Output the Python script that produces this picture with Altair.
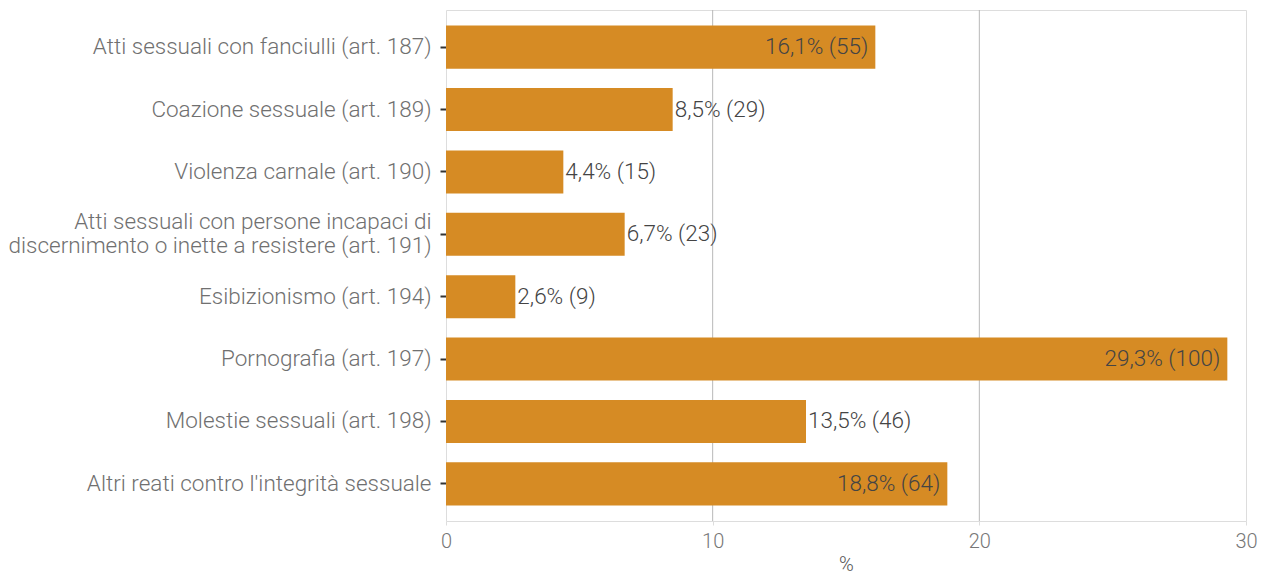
import altair as alt
import pandas as pd

categories = [
    "Atti sessuali con fanciulli (art. 187)",
    "Coazione sessuale (art. 189)",
    "Violenza carnale (art. 190)",
    "Atti sessuali con persone incapaci di|discernimento o inette a resistere (art. 191)",
    "Esibizionismo (art. 194)",
    "Pornografia (art. 197)",
    "Molestie sessuali (art. 198)",
    "Altri reati contro l'integrità sessuale",
]
pct = [16.1, 8.5, 4.4, 6.7, 2.6, 29.3, 13.5, 18.8]
counts = [55, 29, 15, 23, 9, 100, 46, 64]
x_ticks = [0, 10, 20, 30]
grid_values = [10, 20]

df = pd.DataFrame({"cat": categories, "pct": pct, "n": counts})
df["label"] = [f"{p:.1f}".replace(".", ",") + f"% ({n})" for p, n in zip(pct, counts)]
grid_df = pd.DataFrame({"g": grid_values})

FONT = "Roboto"
BAR = "#D68B24"
LBL = 22.5

x_scale = alt.Scale(domain=[0, 30], nice=False, zero=True)
y_scale = alt.Scale(domain=categories, paddingInner=0.31, paddingOuter=0.25)

x_axis = alt.Axis(
    values=x_ticks,
    title="%",
    grid=False,
    domain=False,
    tickColor="#dddddd",
    tickSize=4,
    labelFlush=False,
    labelFont=FONT,
    labelFontWeight=300,
    labelFontSize=20,
    labelColor="#777777",
    labelPadding=6,
    titleFont=FONT,
    titleFontWeight=300,
    titleFontSize=20,
    titleColor="#555555",
    titlePadding=3,
)

y_axis = alt.Axis(
    title=None,
    domain=False,
    grid=False,
    tickColor="#333333",
    tickSize=6,
    tickWidth=2,
    labelFont=FONT,
    labelFontWeight=300,
    labelFontSize=LBL,
    labelColor="#707070",
    labelPadding=9,
    labelLimit=700,
    labelLineHeight=24,
    labelOffset=alt.ConditionalAxisNumber(
        condition={"test": "indexof(datum.value, '|') >= 0", "value": -12}, value=0
    ),
    labelExpr="split(datum.label, '|')",
)

base = alt.Chart(df)

grid = alt.Chart(grid_df).mark_rule(color="#b8b8b8", strokeWidth=1).encode(
    x=alt.X("g:Q", scale=x_scale, axis=x_axis)
)

bars = base.mark_bar(color=BAR).encode(
    x=alt.X("pct:Q", scale=x_scale, axis=x_axis),
    y=alt.Y("cat:N", scale=y_scale, sort=categories, axis=y_axis),
)

inside = base.transform_filter("datum.pct > 15").mark_text(
    align="right", baseline="middle", dx=-7, font=FONT, fontWeight=300, fontSize=LBL, color="#444444"
).encode(
    x=alt.X("pct:Q", scale=x_scale, axis=x_axis),
    y=alt.Y("cat:N", scale=y_scale, sort=categories, axis=y_axis),
    text="label:N",
)

outside = base.transform_filter("datum.pct <= 15").mark_text(
    align="left", baseline="middle", dx=2, font=FONT, fontWeight=300, fontSize=LBL, color="#444444"
).encode(
    x=alt.X("pct:Q", scale=x_scale, axis=x_axis),
    y=alt.Y("cat:N", scale=y_scale, sort=categories, axis=y_axis),
    text="label:N",
)

chart = (
    alt.layer(grid, bars, inside, outside)
    .properties(
        width=800,
        height=511,
        autosize=alt.AutoSizeParams(type="none"),
        padding={"left": 438, "top": 2, "right": 15, "bottom": 53},
        background="white",
    )
    .configure_view(stroke="#dddddd", strokeWidth=1)
)

chart.save("out.html", embed_options={"renderer": "svg", "actions": False})
